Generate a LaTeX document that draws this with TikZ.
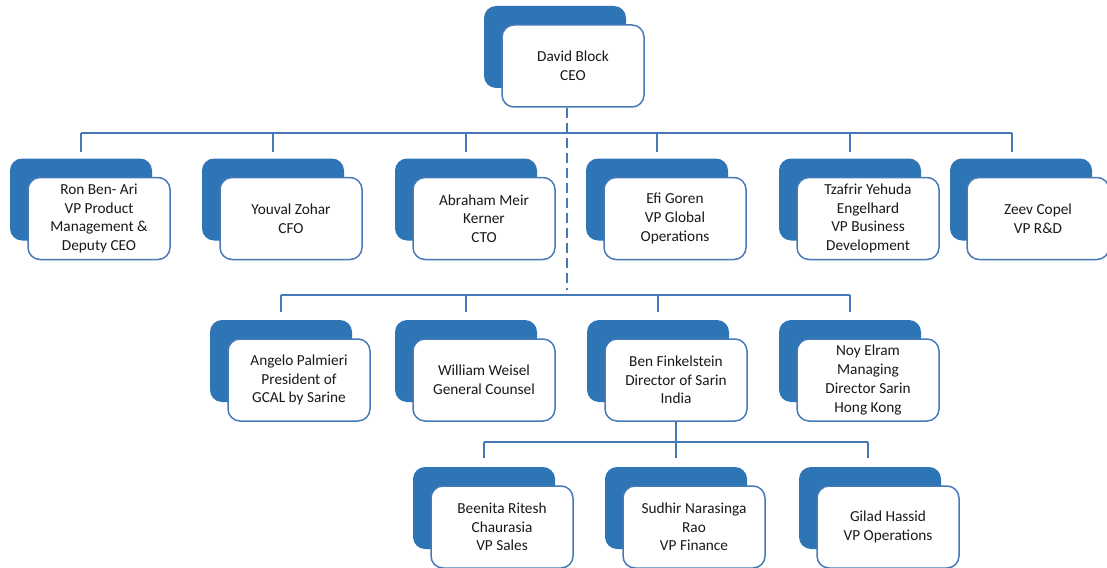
\documentclass[tikz,border=0pt]{standalone}
\usepackage{fontspec}
\setmainfont{Carlito}
\definecolor{sblue}{HTML}{2E75B6}
\definecolor{lblue}{HTML}{4679B8}
\tikzstyle{back}=[rectangle,fill=sblue,rounded corners=12pt,minimum width=142pt,minimum height=82pt]
\tikzstyle{person}=[rectangle,draw=lblue,line width=1.5pt,fill=white,rounded corners=12pt,minimum width=142pt,minimum height=82pt,align=center,text=black!90,font=\fontsize{15.3}{18.7}\selectfont]
\tikzstyle{link}=[draw=lblue,line width=2.4pt]

\begin{document}
\begin{tikzpicture}[x=1pt,y=-1pt]
  \useasboundingbox (0,0) rectangle (1107,567);

  % top
  \node[back] (ceob) at (555,47) {};
  \node[person] (ceo) at (573,66) {David Block\\CEO};

  % first row
  \node[back] (ronb) at (81,199.5) {};
  \node[person] (ron) at (99,218.5) {Ron Ben- Ari\\VP Product\\Management \&\\Deputy CEO};
  \node[back] (youb) at (273,199.5) {};
  \node[person] (you) at (291,218.5) {Youval Zohar\\CFO};
  \node[back] (abrb) at (466,199.5) {};
  \node[person] (abr) at (484,218.5) {Abraham Meir\\Kerner\\CTO};
  \node[back] (efib) at (657,199.5) {};
  \node[person] (efi) at (675,218.5) {Efi Goren\\VP Global\\Operations};
  \node[back] (tzab) at (850,199.5) {};
  \node[person] (tza) at (868,218.5) {Tzafrir Yehuda\\Engelhard\\VP Business\\Development};
  \node[back] (zeeb) at (1021,199.5) {};
  \node[person] (zee) at (1038,218.5) {Zeev Copel\\VP R\&D};

  % second row
  \node[back] (angb) at (281,361) {};
  \node[person] (ang) at (299,380) {Angelo Palmieri\\President of\\GCAL by Sarine};
  \node[back] (wilb) at (466,361) {};
  \node[person] (wil) at (484,380) {William Weisel\\General Counsel};
  \node[back] (benb) at (658,361) {};
  \node[person] (ben) at (676,380) {Ben Finkelstein\\Director of Sarin\\India};
  \node[back] (noyb) at (850,361) {};
  \node[person] (noy) at (868,380) {Noy Elram\\Managing\\Director Sarin\\Hong Kong};

  % third row
  \node[back] (beeb) at (484,508) {};
  \node[person] (bee) at (502,527) {Beenita Ritesh\\Chaurasia\\VP Sales};
  \node[back] (sudb) at (676,508) {};
  \node[person] (sud) at (694,527) {Sudhir Narasinga\\Rao\\VP Finance};
  \node[back] (gilb) at (870,508) {};
  \node[person] (gil) at (888,527) {Gilad Hassid\\VP Operations};

  % connectors
  \coordinate (trunk) at (567,290);
  \coordinate (bus1) at (0,133);
  \coordinate (bus2) at (0,295);
  \coordinate (bus3) at (0,442);
  \draw[link,dash pattern=on 10pt off 5pt] (ceo.south -| trunk) -- (trunk);

  \draw[link] (ronb.north |- bus1) -- ([xshift=-9pt]zeeb.north |- bus1);
  \foreach \n in {ronb,youb,abrb,efib,tzab}
    \draw[link] (\n.north |- bus1) -- ([yshift=6pt]\n.north);
  \draw[link] ([xshift=-9pt]zeeb.north |- bus1) -- ([xshift=-9pt,yshift=6pt]zeeb.north);

  \draw[link] (angb.north |- bus2) -- (noyb.north |- bus2);
  \foreach \n in {angb,wilb,benb,noyb}
    \draw[link] (\n.north |- bus2) -- ([yshift=8pt]\n.north);

  \draw[link] (ben.south -| sudb) -- ([yshift=9pt]sudb.north);
  \draw[link] (beeb.north |- bus3) -- ([xshift=-2pt]gilb.north |- bus3);
  \draw[link] (beeb.north |- bus3) -- ([yshift=9pt]beeb.north);
  \draw[link] ([xshift=-2pt]gilb.north |- bus3) -- ([xshift=-2pt,yshift=9pt]gilb.north);
\end{tikzpicture}
\end{document}
